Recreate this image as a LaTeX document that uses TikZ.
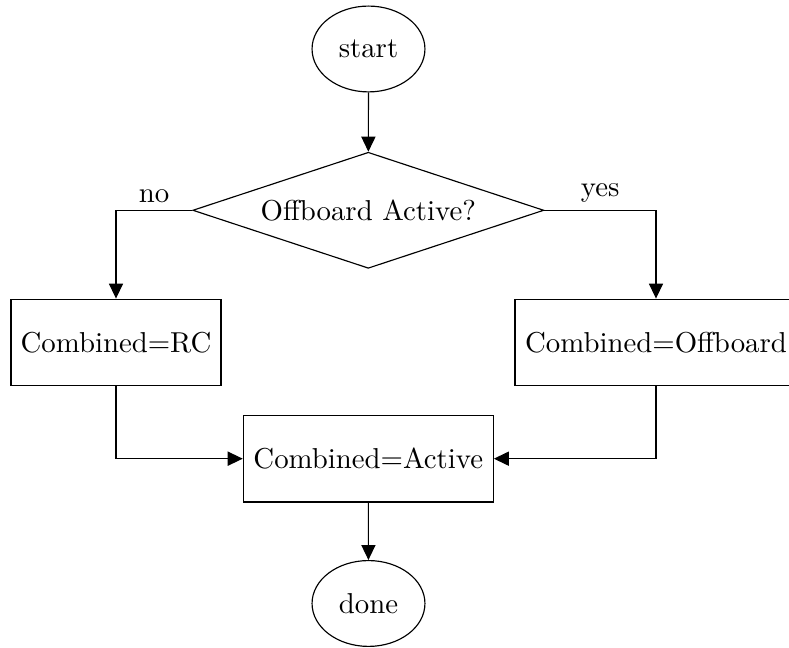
\documentclass[tikz,border=0pt]{standalone}
\usetikzlibrary{shapes.geometric,arrows.meta}
\begin{document}
\begin{tikzpicture}[x=0.3472pt,y=-0.3472pt,
  term/.style={draw,ellipse,inner sep=0pt,minimum width=39.2pt,minimum height=29.8pt},
  decision/.style={draw,diamond,aspect=3.03,inner sep=0pt,minimum width=121.9pt,minimum height=40.3pt},
  procbox/.style={draw,rectangle,inner sep=0pt,minimum height=30.1pt},
  flow/.style={-{Triangle[length=5.2pt,width=4.9pt]}},
  lbl/.style={above,inner sep=2.5pt}]
\useasboundingbox (0,0) rectangle (789,648);
\node[term] (start) at (368.5,49) {start};
\node[decision] (dec) at (368.3,210.3) {Offboard Active?};
\node[procbox,minimum width=72.9pt] (rc) at (116,342.5) {Combined=RC};
\node[procbox,minimum width=97.9pt] (off) at (656,342.5) {Combined=Offboard};
\node[procbox,minimum width=86.8pt] (act) at (368.3,458.7) {Combined=Active};
\node[term] (done) at (368.5,603.5) {done};
\draw[flow] (start) -- (dec);
\draw[flow] (dec.west) -| node[lbl,pos=0.25] {no} (rc.north);
\draw[flow] (dec.east) -| node[lbl,pos=0.25] {yes} (off.north);
\draw[flow] (rc.south) |- (act.west);
\draw[flow] (off.south) |- (act.east);
\draw[flow] (act) -- (done);
\end{tikzpicture}
\end{document}
